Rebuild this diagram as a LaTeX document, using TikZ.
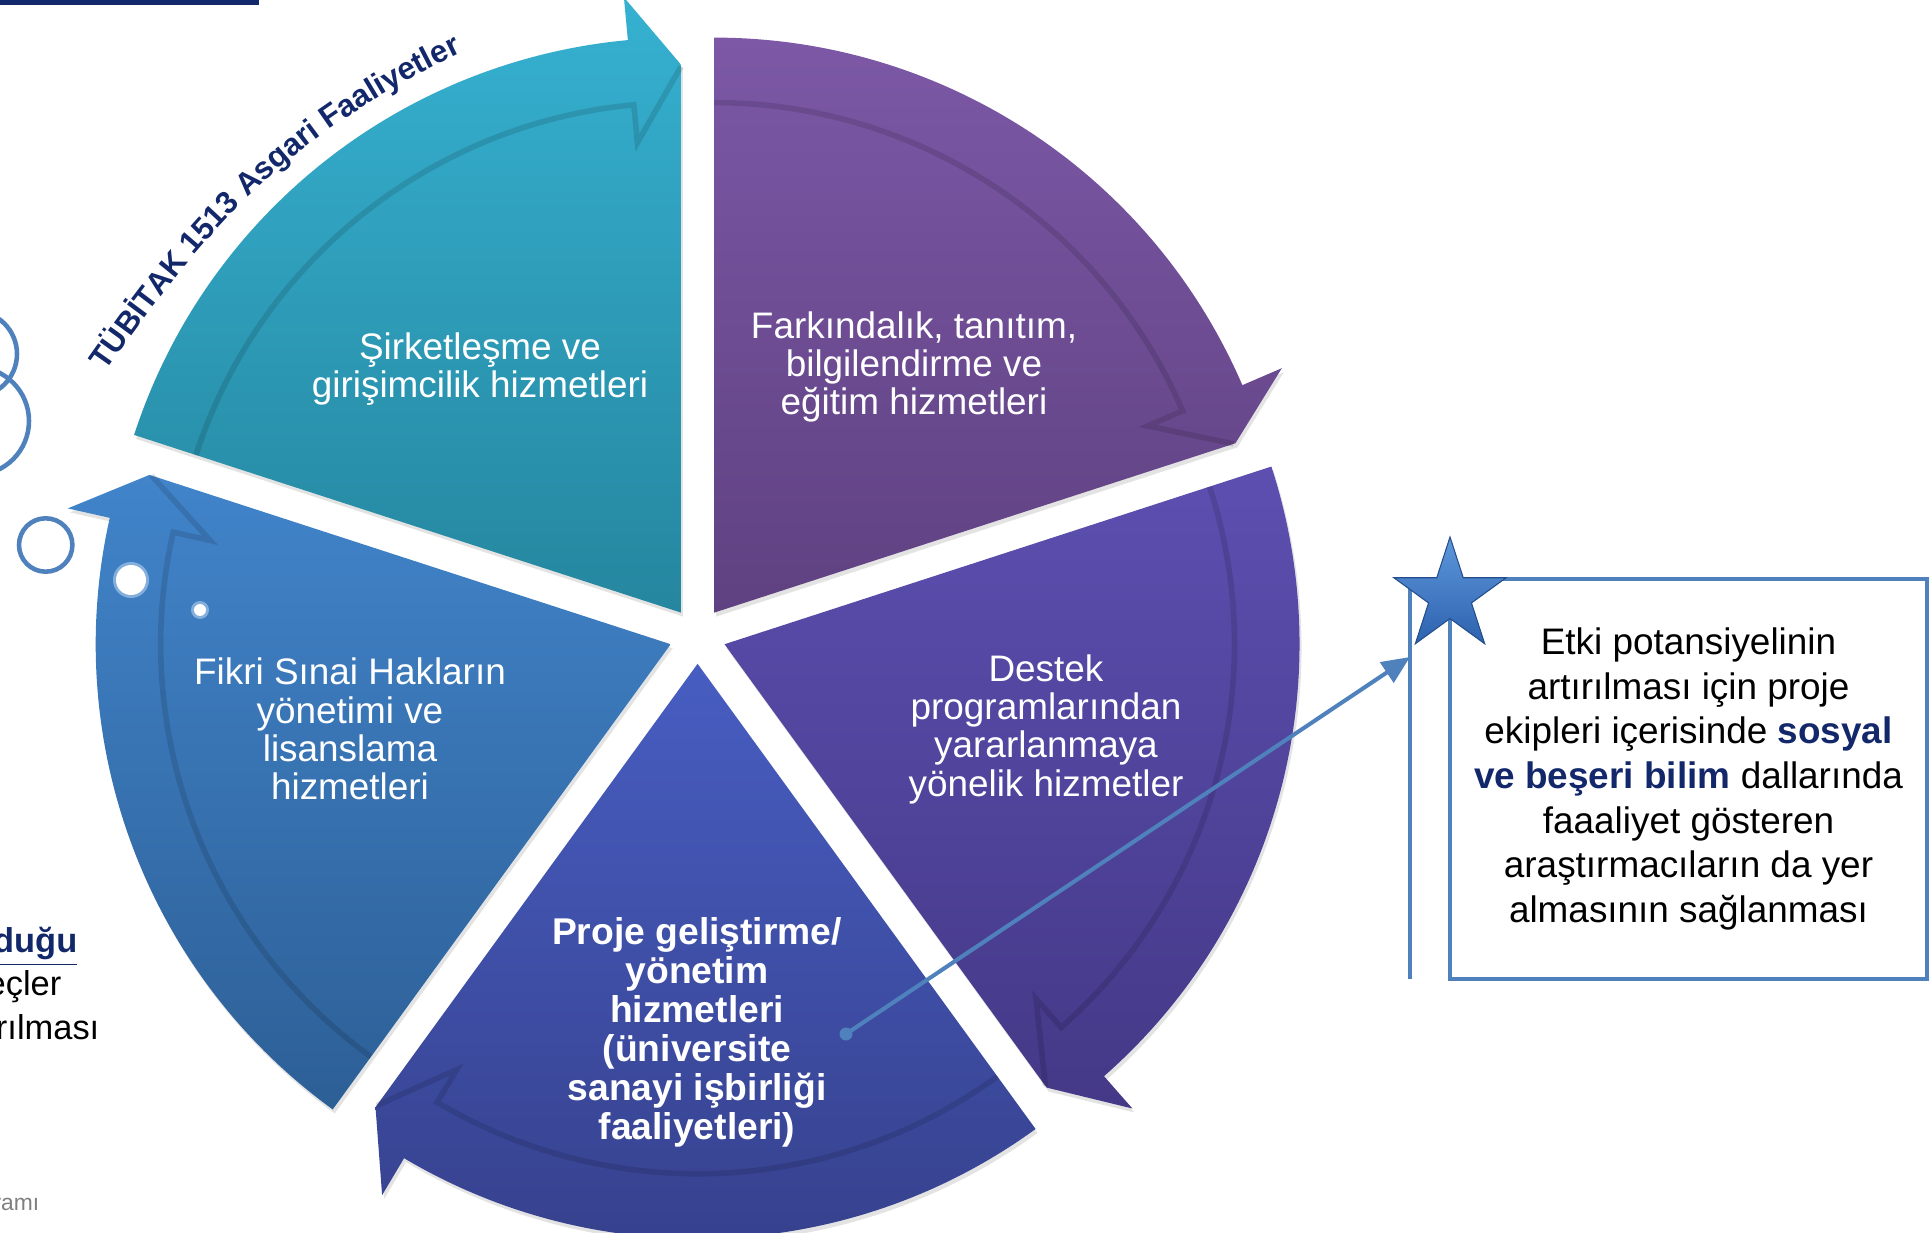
\documentclass[tikz,border=0pt]{standalone}
\usepackage{fontspec}
\setmainfont{Liberation Sans}
\usetikzlibrary{calc,arrows.meta,shapes.geometric,decorations.text,shadows}

\definecolor{navy}{HTML}{13286B}
\definecolor{linkblue}{HTML}{4F81BD}
\definecolor{startop}{HTML}{5E97DC}
\definecolor{starbot}{HTML}{2D62AE}
\definecolor{cyantop}{HTML}{36B1D1}
\definecolor{cyanbot}{HTML}{25869F}
\definecolor{purptop}{HTML}{7C58A6}
\definecolor{purpbot}{HTML}{5F4181}
\definecolor{destop}{HTML}{5C4FB0}
\definecolor{desbot}{HTML}{443887}
\definecolor{projtop}{HTML}{475DC1}
\definecolor{projbot}{HTML}{36408B}
\definecolor{fikrtop}{HTML}{4184CA}
\definecolor{fikrbot}{HTML}{2D5F96}

\tikzset{
  seglabel/.style={text=white, align=center, inner sep=0pt, font=\fontsize{10.5}{10.9}\selectfont},
  bubble/.style={draw=linkblue, line width=1.3pt},
  link/.style={draw=linkblue, line width=1.15pt},
  sidetext/.style={anchor=base east, inner sep=0pt, font=\fontsize{9.8}{12}\selectfont},
}

\begin{document}
\begin{tikzpicture}
  \def\ro{5.75}  % outer radius
  \def\ri{5.12}  % inner edge of the arrow band
  \def\rt{5.48}  % arrow tip
  \def\rbo{6.18} % outer barb
  \def\rbi{4.74} % inner barb
  \def\hd{5.3}   % angle taken by the head
  \useasboundingbox (0,0) rectangle (19.31,12.32);
  \clip (0,0) rectangle (19.31,12.32);
  \fill[navy] (0,12.27) rectangle (2.59,12.40);
  %
  \coordinate (mid) at (6.976,5.965);
  % five segments, clockwise: bisector/top colour/bottom colour
  \foreach \bis/\topc/\botc in {126/cyantop/cyanbot, 54/purptop/purpbot,
      -18/destop/desbot, -90/projtop/projbot, 198/fikrtop/fikrbot}
  {
    \pgfmathsetmacro\angs{\bis+36}
    \pgfmathsetmacro\ange{\bis-36}
    \pgfmathsetmacro\angh{\ange+\hd}
    \coordinate (segc) at ($(mid)+(\bis:0.283)$);
    \path[top color=\topc, bottom color=\botc,
        drop shadow={opacity=0.22, shadow xshift=0.02cm, shadow yshift=-0.04cm}]
      (segc) -- ($(segc)+(\angs:\ro)$) arc[start angle=\angs, end angle=\angh, radius=\ro]
      -- ($(segc)+(\angh:\rbo)$) -- ($(segc)+(\ange:\rt)$) -- cycle;
    \draw[black, opacity=0.12, line width=1.6pt]
      ($(segc)+(\angs:\ri-0.02)$) arc[start angle=\angs, end angle=\angh, radius=\ri-0.02]
      -- ($(segc)+(\angh:\rbi-0.02)$) -- ($(segc)+(\ange:\rt-0.02)$);
  }
  %
  \node[seglabel] (sirket) at (4.80,8.63) {Şirketleşme ve\\girişimcilik hizmetleri};
  \node[seglabel] (farkin) at (9.14,8.65) {Farkındalık, tanıtım,\\bilgilendirme ve\\eğitim hizmetleri};
  \node[seglabel] (destek) at (10.46,5.03) {Destek\\programlarından\\yararlanmaya\\yönelik hizmetler};
  \node[seglabel, font=\fontsize{10.6}{11.1}\selectfont\bfseries] (proje) at (6.97,2.00)
    {Proje geliştirme/\\yönetim\\hizmetleri\\(üniversite\\sanayi işbirliği\\faaliyetleri)};
  \node[seglabel] (fikri) at (3.50,5.03) {Fikri Sınai Hakların\\yönetimi ve\\lisanslama\\hizmetleri};
  %
  \path[decorate, decoration={text along path, text align=left,
      text={|\fontsize{8.9}{8.9}\selectfont\bfseries\color{navy}|TÜBİTAK 1513 Asgari Faaliyetler}}]
    (1.06,8.60) to[out=55,in=206] (4.53,11.75) -- ++(26:0.8);
  %
  % bubbles on the left
  \draw[bubble] (-0.26,8.78) circle (0.43);
  \draw[bubble] (-0.25,8.11) circle (0.54);
  \draw[bubble] (0.457,6.87) circle (0.267);
  \fill[white!35!fikrtop] (1.31,6.52) circle (0.18);
  \fill[white] (1.31,6.52) circle (0.15);
  \fill[white!35!fikrtop] (2.00,6.22) circle (0.09);
  \fill[white] (2.00,6.22) circle (0.06);
  %
  \node[sidetext, font=\fontsize{9.8}{12}\selectfont\bfseries, text=navy] (sidea) at (0.78,2.80) {\underline{duğu}};
  \node[sidetext] (sideb) at (0.62,2.37) {eçler};
  \node[sidetext] (sidec) at (1.00,1.93) {rılması};
  \node[sidetext, font=\fontsize{6.5}{7}\selectfont, text=gray] (sided) at (0.40,0.22) {ramı};
  %
  % note on the right
  \node[link, minimum width=4.77cm, minimum height=4.0cm, align=center, inner sep=0pt,
      font=\fontsize{10.5}{12.7}\selectfont] (note) at (16.885,4.53)
    {Etki potansiyelinin\\artırılması için proje\\ekipleri içerisinde {\bfseries\color{navy}sosyal}\\
     {\bfseries\color{navy}ve beşeri bilim} dallarında\\faaaliyet gösteren\\araştırmacıların da yer\\almasının sağlanması};
  \coordinate (railtop) at (14.10,6.47);
  \coordinate (railbot) at (14.10,2.53);
  \draw[link] (railtop) -- (railbot);
  \node[circle, fill=linkblue, minimum size=0.13cm, inner sep=0pt] (pin) at (8.46,1.98) {};
  \coordinate (hit) at (14.10,5.75);
  \draw[link, -{Triangle[length=0.28cm,width=0.24cm]}] (pin.center) -- (hit);
  \node[star, star points=5, star point ratio=2.618, minimum size=1.18cm, inner sep=0pt,
      top color=startop, bottom color=starbot, draw=starbot!80!black,
      line width=0.3pt] (flag) at (14.50,6.36) {};
\end{tikzpicture}
\end{document}
